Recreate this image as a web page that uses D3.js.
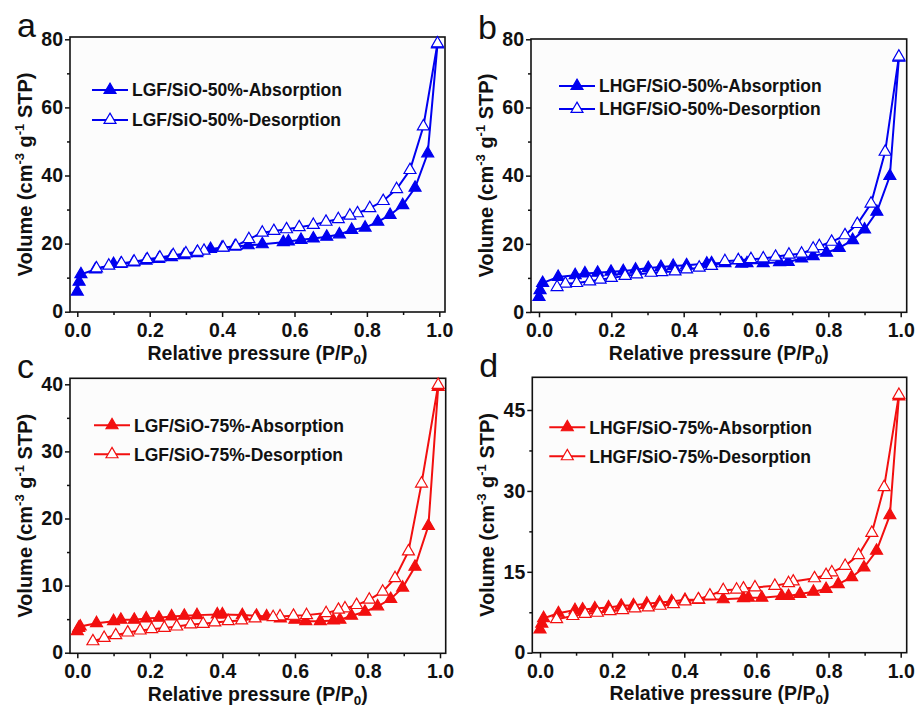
<!DOCTYPE html>
<html>
<head>
<meta charset="utf-8">
<script src="https://cdn.jsdelivr.net/npm/d3@7"></script>
<style>
  body { margin: 0; background: #fff; }
  text { font-family: "Liberation Sans", Arial, sans-serif; }
</style>
</head>
<body>
<script>
// ---------------------- data ----------------------
var xTicks = [0, 0.2, 0.4, 0.6, 0.8, 1.0];
var xMinor = [0.1, 0.3, 0.5, 0.7, 0.9];

var aAds = [[0,5.9],[0.005,8.8],[0.01,11.0],[0.05,12.4],[0.1,14.0],[0.12,14.0],[0.155,14.5],[0.19,15.0],[0.225,15.5],[0.26,16.0],[0.295,16.6],[0.33,17.2],[0.368,18.4],[0.4,18.8],[0.435,19.1],[0.472,19.5],[0.511,19.8],[0.569,20.4],[0.583,20.6],[0.618,21.1],[0.652,21.5],[0.689,22.0],[0.724,22.7],[0.758,24.0],[0.795,24.7],[0.83,26.4],[0.864,28.4],[0.899,31.3],[0.933,36.4],[0.968,46.5],[0.995,78.5]];
var aDes = [[0.995,78.8],[0.956,54.4],[0.919,41.6],[0.882,36.0],[0.845,32.5],[0.808,30.4],[0.774,28.9],[0.753,28.2],[0.721,27.2],[0.687,26.4],[0.652,25.5],[0.613,24.8],[0.578,24.2],[0.543,23.7],[0.511,23.2],[0.474,21.3],[0.438,19.3],[0.403,18.8],[0.35,17.9],[0.332,17.6],[0.3,17.1],[0.265,16.6],[0.228,15.9],[0.193,15.4],[0.157,14.7],[0.122,14.2],[0.087,13.5],[0.053,12.7]];

var bAds = [[0,4.4],[0.003,6.4],[0.01,8.5],[0.053,10.3],[0.1,10.8],[0.127,11.3],[0.162,11.5],[0.199,11.8],[0.233,12.0],[0.267,12.4],[0.302,12.9],[0.337,13.2],[0.371,13.5],[0.408,13.7],[0.464,14.2],[0.477,14.3],[0.514,14.3],[0.56,14.2],[0.575,14.3],[0.62,14.3],[0.665,14.6],[0.689,14.7],[0.726,15.7],[0.758,16.4],[0.795,17.4],[0.83,18.8],[0.867,21.1],[0.9,24.2],[0.934,29.4],[0.97,39.9],[0.995,74.6]];
var bDes = [[0.995,74.9],[0.957,47.0],[0.918,31.8],[0.88,25.8],[0.846,22.5],[0.809,20.6],[0.775,19.3],[0.758,18.6],[0.726,17.1],[0.691,16.8],[0.654,16.2],[0.62,15.7],[0.586,15.5],[0.551,15.2],[0.514,14.9],[0.477,13.5],[0.443,13.0],[0.408,12.5],[0.376,11.9],[0.339,11.7],[0.31,11.5],[0.27,11.0],[0.238,10.6],[0.2,10.0],[0.169,9.5],[0.14,9.0],[0.104,8.5],[0.073,8.3],[0.05,7.3]];

var cAds = [[0,3.2],[0.004,3.7],[0.008,3.9],[0.053,4.4],[0.1,4.7],[0.12,4.9],[0.157,4.9],[0.19,5.1],[0.225,5.2],[0.26,5.4],[0.295,5.5],[0.33,5.6],[0.386,5.7],[0.4,5.7],[0.455,5.6],[0.494,5.5],[0.522,5.4],[0.56,5.1],[0.6,4.9],[0.63,4.7],[0.67,4.7],[0.706,4.8],[0.724,4.9],[0.756,5.5],[0.793,6.1],[0.828,6.9],[0.864,8.0],[0.897,9.7],[0.931,12.8],[0.968,18.9],[0.995,39.6]];
var cDes = [[0.995,39.9],[0.949,25.2],[0.913,15.1],[0.876,11.1],[0.842,9.1],[0.805,7.9],[0.77,7.1],[0.738,6.6],[0.72,6.4],[0.686,5.9],[0.632,5.6],[0.596,5.5],[0.559,5.4],[0.54,5.3],[0.49,5.1],[0.453,4.8],[0.416,4.7],[0.379,4.5],[0.347,4.3],[0.312,4.2],[0.274,3.9],[0.24,3.7],[0.205,3.5],[0.173,3.3],[0.139,3.0],[0.106,2.6],[0.074,2.2],[0.043,1.7]];

var dAds = [[0,4.3],[0.005,5.4],[0.01,6.4],[0.051,7.3],[0.097,7.9],[0.118,8.0],[0.152,8.2],[0.19,8.4],[0.225,8.7],[0.259,8.8],[0.296,9.1],[0.331,9.3],[0.365,9.5],[0.402,9.8],[0.44,9.8],[0.508,9.9],[0.564,10.1],[0.578,10.2],[0.615,10.2],[0.67,10.5],[0.689,10.5],[0.721,10.9],[0.758,11.3],[0.793,11.8],[0.827,12.7],[0.864,14.0],[0.898,15.8],[0.933,18.9],[0.97,25.5],[0.995,47.5]];
var dDes = [[0.995,47.8],[0.954,30.7],[0.92,22.2],[0.883,18.1],[0.846,16.1],[0.809,14.9],[0.793,14.4],[0.761,13.8],[0.702,13.2],[0.689,12.9],[0.651,12.4],[0.596,12.1],[0.564,11.9],[0.545,11.7],[0.508,11.6],[0.471,10.6],[0.439,9.9],[0.402,9.5],[0.37,9.0],[0.333,8.7],[0.3,8.4],[0.263,8.2],[0.229,7.9],[0.194,7.7],[0.159,7.4],[0.125,7.2],[0.091,6.8],[0.046,6.2]];

var panelLetters = ["a", "b", "c", "d"];
var yTicksA = [0, 20, 40, 60, 80], yMinorA = [10, 30, 50, 70];
var yTicksC = [0, 10, 20, 30, 40], yMinorC = [5, 15, 25, 35];
var yTicksD = [0, 15, 30, 45], yMinorD = [7.5, 22.5, 37.5];
var legendA = ["LGF/SiO-50%-Absorption", "LGF/SiO-50%-Desorption"];
var legendB = ["LHGF/SiO-50%-Absorption", "LHGF/SiO-50%-Desorption"];
var legendC = ["LGF/SiO-75%-Absorption", "LGF/SiO-75%-Desorption"];
var legendD = ["LHGF/SiO-75%-Absorption", "LHGF/SiO-75%-Desorption"];

// ---------------------- layout of the four panels ----------------------
var panels = [
  { letter: panelLetters[0], ads: aAds, des: aDes, yt: yTicksA, ym: yMinorA, legend: legendA, color: "#0000f0",
    box: [70, 37, 445, 312], xr: [77.3, 439.3], yv: 80, yr: [311.7, 39.3], lg: [22, 53, 30] },
  { letter: panelLetters[1], ads: bAds, des: bDes, yt: yTicksA, ym: yMinorA, legend: legendB, color: "#0000f0",
    box: [531, 39, 906.7, 312.3], xr: [539, 900.7], yv: 80, yr: [312, 39.3], lg: [28, 47, 23] },
  { letter: panelLetters[2], ads: cAds, des: cDes, yt: yTicksC, ym: yMinorC, legend: legendC, color: "#f20f0f",
    box: [70, 378.3, 445.7, 653.3], xr: [77.3, 440], yv: 40, yr: [652.7, 384.3], lg: [24, 47, 29] },
  { letter: panelLetters[3], ads: dAds, des: dDes, yt: yTicksD, ym: yMinorD, legend: legendD, color: "#f20f0f",
    box: [532.3, 377.3, 906.7, 652.7], xr: [540, 900.7], yv: 45, yr: [652.7, 410], lg: [17, 50, 29] }
];

var svg = d3.select("body").append("svg")
  .attr("width", 919)
  .attr("height", 707);

var tri = d3.symbol().type(d3.symbolTriangle).size(62);

panels.forEach(function (p) {
  var L = p.box[0], T = p.box[1], R = p.box[2], B = p.box[3];
  var x = d3.scaleLinear().domain([0, 1]).range(p.xr);
  var y = d3.scaleLinear().domain([0, p.yv]).range(p.yr);
  var g = svg.append("g");

  // plot background
  g.append("rect").attr("x", L).attr("y", T).attr("width", R - L).attr("height", B - T)
    .attr("fill", "#fcfcfc").attr("stroke", "none");

  // axes with outward ticks
  var xAxis = g.append("g").attr("transform", "translate(0," + B + ")")
    .call(d3.axisBottom(x).tickValues(xTicks).tickSize(5).tickFormat(d3.format(".1f")));
  xAxis.select(".domain").remove();
  xAxis.selectAll("text").attr("font-size", "19.5px").attr("font-weight", "bold").attr("fill", "#111")
    .attr("y", 25).attr("dy", 0);
  g.append("g").attr("transform", "translate(0," + B + ")")
    .call(d3.axisBottom(x).tickValues(xMinor).tickSize(3).tickFormat(""))
    .select(".domain").remove();

  var yAxis = g.append("g").attr("transform", "translate(" + L + ",0)")
    .call(d3.axisLeft(y).tickValues(p.yt).tickSize(5).tickPadding(2).tickFormat(d3.format("d")));
  yAxis.select(".domain").remove();
  yAxis.selectAll("text").attr("font-size", "19.5px").attr("font-weight", "bold").attr("fill", "#111");
  g.append("g").attr("transform", "translate(" + L + ",0)")
    .call(d3.axisLeft(y).tickValues(p.ym).tickSize(3).tickFormat(""))
    .select(".domain").remove();
  g.selectAll(".tick line").attr("stroke", "#111").attr("stroke-width", 1.5);

  g.append("rect").attr("x", L).attr("y", T).attr("width", R - L).attr("height", B - T)
    .attr("fill", "none").attr("stroke", "#111").attr("stroke-width", 1.6);

  // series
  var line = d3.line().x(function (d) { return x(d[0]); }).y(function (d) { return y(d[1]); });
  var clipId = "clip" + p.letter;
  g.append("clipPath").attr("id", clipId).append("rect")
    .attr("x", L).attr("y", T - 8).attr("width", R - L + 8).attr("height", B - T + 8);
  var plot = g.append("g").attr("clip-path", "url(#" + clipId + ")");

  [p.ads, p.des].forEach(function (s) {
    plot.append("path").datum(s).attr("d", line)
      .attr("fill", "none").attr("stroke", p.color).attr("stroke-width", 2);
  });
  [p.ads, p.des].forEach(function (s, i) {
    plot.selectAll(null).data(s).enter().append("path")
      .attr("d", tri)
      .attr("transform", function (d) { return "translate(" + x(d[0]) + "," + y(d[1]) + ")"; })
      .attr("fill", i === 0 ? p.color : "#fff")
      .attr("stroke", p.color).attr("stroke-width", 1.2);
  });

  // legend
  p.legend.forEach(function (t, i) {
    var ly = T + p.lg[1] + i * p.lg[2];
    var lx = L + p.lg[0];
    g.append("line").attr("x1", lx).attr("x2", lx + 36).attr("y1", ly).attr("y2", ly)
      .attr("stroke", p.color).attr("stroke-width", 2);
    g.append("path").attr("d", tri).attr("transform", "translate(" + (lx + 18) + "," + ly + ")")
      .attr("fill", i === 0 ? p.color : "#fff").attr("stroke", p.color).attr("stroke-width", 1.2);
    g.append("text").attr("x", lx + 40).attr("y", ly).attr("dy", "0.36em")
      .attr("font-size", "17.5px").attr("font-weight", "bold").attr("fill", "#111").text(t);
  });

  // axis titles
  var xt = g.append("text").attr("x", (L + R) / 2).attr("y", B + 47.5)
    .attr("text-anchor", "middle").attr("font-size", "19.5px").attr("font-weight", "bold").attr("fill", "#111");
  xt.append("tspan").text("Relative pressure (P/P");
  xt.append("tspan").attr("font-size", "13.5px").attr("dy", "4").text("0");
  xt.append("tspan").attr("dy", "-4").text(")");

  var yt = g.append("text")
    .attr("transform", "translate(" + (L - 38) + "," + ((T + B) / 2) + ") rotate(-90)")
    .attr("text-anchor", "middle").attr("font-size", "20px").attr("font-weight", "bold").attr("fill", "#111");
  yt.append("tspan").text("Volume (cm");
  yt.append("tspan").attr("font-size", "13px").attr("dy", "-8").text("-3");
  yt.append("tspan").attr("dy", "8").text(" g");
  yt.append("tspan").attr("font-size", "13px").attr("dy", "-8").text("-1");
  yt.append("tspan").attr("dy", "8").text(" STP)");

  // panel letter
  g.append("text").attr("x", L - 53).attr("y", T).attr("font-size", "34px").attr("fill", "#111")
    .text(p.letter);
});
</script>
</body>
</html>
